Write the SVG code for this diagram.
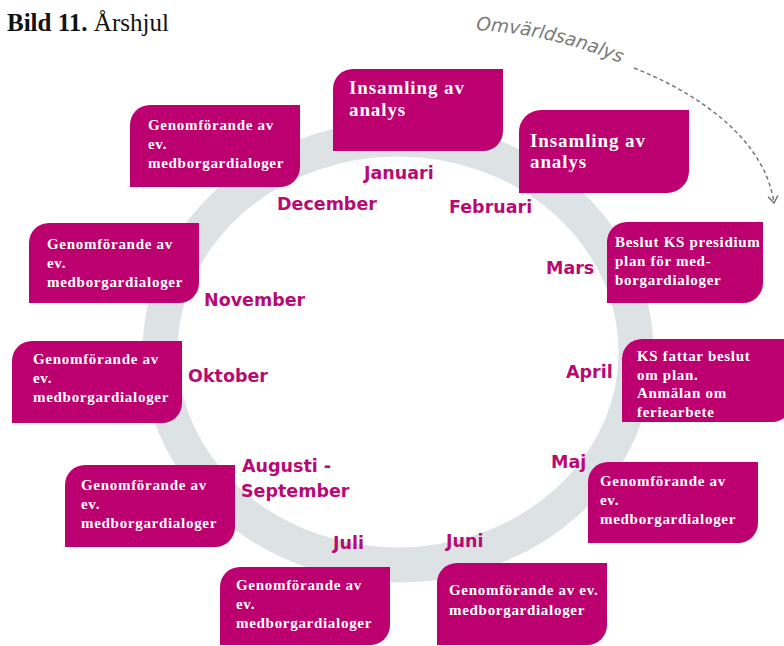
<svg xmlns="http://www.w3.org/2000/svg" width="784" height="646" viewBox="0 0 784 646">
<style>
.box{fill:#bc0070}
.big{font-family:"Liberation Serif","Times New Roman",serif;font-weight:bold;font-size:19px;letter-spacing:0.9px;fill:#ffffff}
.bt{font-family:"Liberation Serif","Times New Roman",serif;font-weight:bold;font-size:15px;letter-spacing:0.7px;fill:#ffffff}
.mon{font-family:"DejaVu Sans","Verdana",sans-serif;font-weight:bold;font-size:17.5px;fill:#b80a74}
.omv{font-family:"DejaVu Sans","Verdana",sans-serif;font-style:oblique;font-size:18.5px;fill:#7a7a7a}
</style>
<defs>
<marker id="chev" viewBox="0 0 10 12" refX="8" refY="6" markerWidth="10" markerHeight="12" markerUnits="userSpaceOnUse" orient="auto">
<path d="M1,1 L8,6 L1,11" fill="none" stroke="#777" stroke-width="1.5"/>
</marker>
<path id="omvPath" d="M 476 30 Q 556 34 632 68"/>
</defs>
<rect width="784" height="646" fill="#ffffff"/>
<text x="7" y="31" font-family="'Liberation Serif','Times New Roman',serif" font-size="25" fill="#111"><tspan font-weight="bold">Bild 11.</tspan> Årshjul</text>
<g id="ring"><ellipse cx="398" cy="352" rx="238" ry="213" fill="none" stroke="#dde2e4" stroke-width="35"/></g>
<g id="connectors">
<path d="M 634 68 C 700 94, 765 140, 774 203" fill="none" stroke="#777" stroke-width="1.5" stroke-dasharray="4 3" marker-end="url(#chev)"/>
</g>
<g id="omvarldsanalys"><text class="omv"><textPath href="#omvPath">Omvärldsanalys</textPath></text></g>
<g id="months">
<text class="mon" x="364" y="179">Januari</text>
<text class="mon" x="277" y="210">December</text>
<text class="mon" x="449" y="213">Februari</text>
<text class="mon" x="546" y="274">Mars</text>
<text class="mon" x="204" y="306">November</text>
<text class="mon" x="566" y="378">April</text>
<text class="mon" x="188" y="382">Oktober</text>
<text class="mon" x="242" y="472">Augusti -</text>
<text class="mon" x="241" y="497">September</text>
<text class="mon" x="551" y="468">Maj</text>
<text class="mon" x="333" y="549">Juli</text>
<text class="mon" x="446" y="547">Juni</text>
</g>
<g id="box-jan"><path class="box" d="M333,89 A20,20 0 0 1 353,69 H503 V131 A20,20 0 0 1 483,151 H333 Z"/>
<text class="big" x="349" y="94">Insamling av</text><text class="big" x="349" y="116">analys</text></g>
<g id="box-feb"><path class="box" d="M519,132 A22,22 0 0 1 541,110 H689 V171 A22,22 0 0 1 667,193 H519 Z"/>
<text class="big" x="530" y="147">Insamling av</text><text class="big" x="530" y="168">analys</text></g>
<g id="box-dec"><path class="box" d="M130,125 A20,20 0 0 1 150,105 H300 V167 A20,20 0 0 1 280,187 H130 Z"/>
<text class="bt" x="148" y="130">Genomförande av</text><text class="bt" x="148" y="149">ev.</text><text class="bt" x="148" y="168">medborgardialoger</text></g>
<g id="box-nov"><path class="box" d="M29,243 A20,20 0 0 1 49,223 H199 V283 A20,20 0 0 1 179,303 H29 Z"/>
<text class="bt" x="47" y="249">Genomförande av</text><text class="bt" x="47" y="268">ev.</text><text class="bt" x="47" y="287">medborgardialoger</text></g>
<g id="box-okt"><path class="box" d="M12,361 A20,20 0 0 1 32,341 H182 V403 A20,20 0 0 1 162,423 H12 Z"/>
<text class="bt" x="33" y="364">Genomförande av</text><text class="bt" x="33" y="383">ev.</text><text class="bt" x="33" y="402">medborgardialoger</text></g>
<g id="box-aug"><path class="box" d="M65,485 A20,20 0 0 1 85,465 H235 V527 A20,20 0 0 1 215,547 H65 Z"/>
<text class="bt" x="81" y="490">Genomförande av</text><text class="bt" x="81" y="509">ev.</text><text class="bt" x="81" y="528">medborgardialoger</text></g>
<g id="box-jul"><path class="box" d="M220,587 A20,20 0 0 1 240,567 H390 V625 A20,20 0 0 1 370,645 H220 Z"/>
<text class="bt" x="236" y="590">Genomförande av</text><text class="bt" x="236" y="609">ev.</text><text class="bt" x="236" y="628">medborgardialoger</text></g>
<g id="box-jun"><path class="box" d="M437,583 A20,20 0 0 1 457,563 H607 V625 A20,20 0 0 1 587,645 H437 Z"/>
<text class="bt" x="449" y="595">Genomförande av ev.</text><text class="bt" x="449" y="615">medborgardialoger</text></g>
<g id="box-maj"><path class="box" d="M588,482 A20,20 0 0 1 608,462 H758 V523 A20,20 0 0 1 738,543 H588 Z"/>
<text class="bt" x="600" y="486">Genomförande av</text><text class="bt" x="600" y="505">ev.</text><text class="bt" x="600" y="524">medborgardialoger</text></g>
<g id="box-mar"><path class="box" d="M607,242 A20,20 0 0 1 627,222 H763 V283 A20,20 0 0 1 743,303 H607 Z"/>
<text class="bt" x="615" y="247">Beslut KS presidium</text><text class="bt" x="615" y="266">plan för med-</text><text class="bt" x="615" y="285">borgardialoger</text></g>
<g id="box-apr"><path class="box" d="M622,359 A20,20 0 0 1 642,339 H792 V402 A20,20 0 0 1 772,422 H622 Z"/>
<text class="bt" x="637" y="361">KS fattar beslut</text><text class="bt" x="637" y="380">om plan.</text><text class="bt" x="637" y="398">Anmälan om</text><text class="bt" x="637" y="417">feriearbete</text></g>
</svg>
